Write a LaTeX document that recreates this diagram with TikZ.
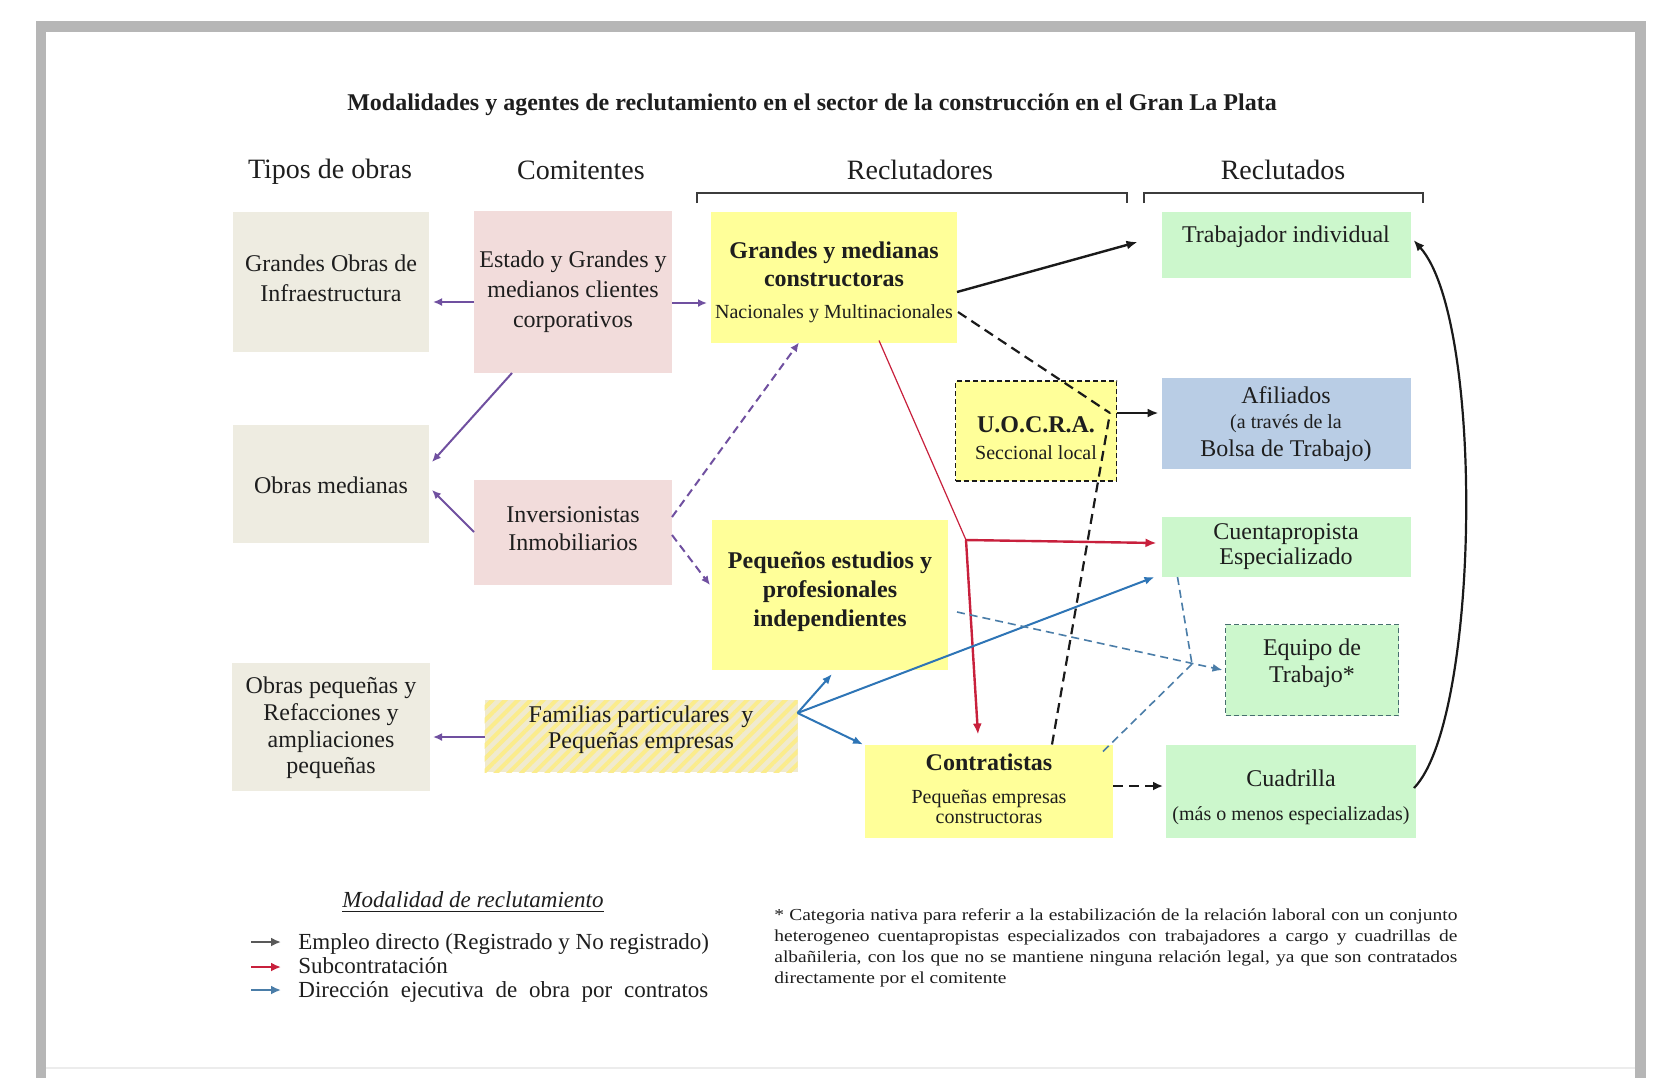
\documentclass[tikz,border=0pt]{standalone}
\usepackage{fontspec}
\usepackage{graphicx}
\setmainfont{Liberation Serif}
\usetikzlibrary{arrows.meta,patterns.meta}
\definecolor{frameGray}{RGB}{182,182,182}
\definecolor{faintGray}{RGB}{236,236,236}
\definecolor{beigeBox}{RGB}{238,236,225}
\definecolor{pinkBox}{RGB}{242,220,219}
\definecolor{yellowBox}{RGB}{255,255,153}
\definecolor{greenBox}{RGB}{204,247,204}
\definecolor{blueBox}{RGB}{185,205,229}
\definecolor{famBg}{RGB}{240,234,206}
\definecolor{famStripe}{RGB}{251,236,140}
\definecolor{purp}{RGB}{112,80,160}
\definecolor{redc}{RGB}{200,32,60}
\definecolor{bluec}{RGB}{46,117,182}
\definecolor{blued}{RGB}{74,125,168}
\definecolor{blk}{RGB}{26,26,26}
\definecolor{txtc}{RGB}{30,30,30}
\definecolor{brk}{RGB}{60,60,60}
\definecolor{eqBorder}{RGB}{70,110,110}
\begin{document}
\begin{tikzpicture}[x=0.5pt,y=-0.5pt,
  bx/.style n args={3}{fill=#1, minimum width=#2, minimum height=#3, inner sep=0pt, outer sep=0pt},
  tx/.style={align=center, inner sep=0pt, text=txtc},
  pa/.style={draw=purp, line width=1pt, -{Latex[length=4.5pt,width=4pt]}},
  pd/.style={pa, dash pattern=on 4pt off 2.5pt},
  ba/.style={draw=blk, line width=1.2pt, -{Latex[length=5.5pt,width=4.5pt]}},
  bd/.style={draw=blk, line width=1.1pt, dash pattern=on 5pt off 3pt},
  bda/.style={bd, -{Latex[length=5pt,width=4.5pt]}},
  rt/.style={draw=redc, line width=0.6pt},
  ra/.style={draw=redc, line width=1.2pt, -{Latex[length=5.5pt,width=4.5pt]}},
  ua/.style={draw=bluec, line width=1pt, -{Latex[length=5pt,width=4pt]}},
  ud/.style={draw=blued, line width=0.8pt, dash pattern=on 4pt off 2.5pt},
  uda/.style={ud, -{Latex[length=5pt,width=4pt]}},
]
\useasboundingbox (0,0) rectangle (1654,1078);
\fill[white] (0,0) rectangle (1654,1078);
% frame
\fill[frameGray] (37,21) rectangle (1646,32);
\fill[frameGray] (36,21) rectangle (46,1078);
\fill[frameGray] (1635,21) rectangle (1646,1078);
\draw[faintGray, line width=0.8pt] (46,1068) -- (1635,1068);

% title and headers
\node[tx, font=\bfseries\fontsize{12}{13}\selectfont] (title) at (812,105) {Modalidades y agentes de reclutamiento en el sector de la construcción en el Gran La Plata};
\node[tx, font=\fontsize{14}{15}\selectfont] (h1) at (330,172) {Tipos de obras};
\node[tx, font=\fontsize{14}{15}\selectfont] (h2) at (581,170) {Comitentes};
\node[tx, font=\fontsize{14}{15}\selectfont] (h3) at (920,170) {Reclutadores};
\node[tx, font=\fontsize{14}{15}\selectfont] (h4) at (1283,170) {Reclutados};
\draw[brk, line width=1pt] (697,203) -- (697,193) -- (1127,193) -- (1127,203);
\draw[brk, line width=1pt] (1144,203) -- (1144,193) -- (1423,193) -- (1423,203);

% boxes
\node[bx={beigeBox}{98pt}{70pt}] (gobras) at (331,282) {};
\node[bx={pinkBox}{99pt}{81pt}] (estado) at (573,292) {};
\node[bx={beigeBox}{98pt}{59pt}] (omed) at (331,484) {};
\node[bx={pinkBox}{99pt}{52.5pt}] (inver) at (573,532) {};
\node[bx={beigeBox}{99pt}{64pt}] (opeq) at (331,727) {};
\node[bx={famBg}{156.5pt}{36pt}, postaction={pattern={Lines[angle=45,distance=4.5pt,line width=2pt]}, pattern color=famStripe}] (famil) at (641,736) {};
\node[bx={yellowBox}{123pt}{65.5pt}] (gmc) at (834,277) {};
\node[bx={yellowBox}{80.5pt}{50pt}, draw=blk, line width=0.8pt, dash pattern=on 2.5pt off 1.5pt] (uocra) at (1036,431) {};
\node[bx={yellowBox}{118pt}{75pt}] (pequ) at (830,595) {};
\node[bx={yellowBox}{124pt}{46.5pt}] (contr) at (989,791) {};
\node[bx={greenBox}{124.5pt}{33pt}] (trab) at (1286,245) {};
\node[bx={blueBox}{124.5pt}{45.5pt}] (afil) at (1286,423) {};
\node[bx={greenBox}{124.5pt}{30pt}] (cuenta) at (1286,547) {};
\node[bx={greenBox}{86.5pt}{45.5pt}, draw=eqBorder, line width=0.6pt, dash pattern=on 2.5pt off 1.5pt] (equipo) at (1312,670) {};
\node[bx={greenBox}{125pt}{46.5pt}] (cuad) at (1291,791) {};

% box texts
\node[tx, font=\fontsize{12}{15}\selectfont] (gobrasT) at (331,278) {Grandes Obras de\\Infraestructura};
\node[tx, font=\fontsize{12}{15}\selectfont] (estadoT) at (573,292) {Estado y Grandes y\\medianos clientes\\corporativos};
\node[tx, font=\fontsize{12}{15}\selectfont] (omedT) at (331,485) {Obras medianas};
\node[tx, font=\fontsize{12}{14}\selectfont] (inverT) at (573,529) {Inversionistas\\Inmobiliarios};
\node[tx, font=\fontsize{12}{13.3}\selectfont] (opeqT) at (331,728) {Obras pequeñas y\\Refacciones y\\ampliaciones\\pequeñas};
\node[tx, font=\fontsize{12}{13}\selectfont] (familT) at (641,730) {Familias particulares\ \ y\\Pequeñas empresas};
\node[tx, font=\bfseries\fontsize{12}{14}\selectfont] (gmcT) at (834,264) {Grandes y medianas\\constructoras};
\node[tx, font=\fontsize{10}{11}\selectfont] (gmcS) at (834,314) {Nacionales y Multinacionales};
\node[tx, font=\bfseries\fontsize{12}{14}\selectfont] (uocraT) at (1036,425) {U.O.C.R.A.};
\node[tx, font=\fontsize{10}{11}\selectfont] (uocraS) at (1036,453) {Seccional local};
\node[tx, font=\bfseries\fontsize{12}{14.5}\selectfont] (pequT) at (830,592) {Pequeños estudios y\\profesionales\\independientes};
\node[tx, font=\bfseries\fontsize{12}{14}\selectfont] (contrT) at (989,762) {Contratistas};
\node[tx, font=\fontsize{10}{10}\selectfont] (contrS) at (989,807) {Pequeñas empresas\\constructoras};
\node[tx, font=\fontsize{12}{15}\selectfont] (trabT) at (1286,237) {Trabajador individual};
\node[tx, font=\fontsize{12}{15}\selectfont] (afilT1) at (1286,395) {Afiliados};
\node[tx, font=\fontsize{10}{11}\selectfont] (afilT2) at (1286,424) {(a través de la};
\node[tx, font=\fontsize{12}{15}\selectfont] (afilT3) at (1286,451) {Bolsa de Trabajo)};
\node[tx, font=\fontsize{12}{12.5}\selectfont] (cuentaT) at (1286,547) {Cuentapropista\\Especializado};
\node[tx, font=\fontsize{12}{13.5}\selectfont] (equipoT) at (1312,663) {Equipo de\\Trabajo*};
\node[tx, font=\fontsize{12}{15}\selectfont] (cuadT) at (1291,778) {Cuadrilla};
\node[tx, font=\fontsize{10}{11}\selectfont] (cuadS) at (1291,816) {(más o menos especializadas)};

% connectors
\draw[pa] ([yshift=-5pt]estado.west) -- ([xshift=2pt,yshift=-10pt]gobras.east);
\draw[pa] ([yshift=-5.5pt]estado.east) -- ([xshift=-2pt,yshift=-13pt]gmc.west);
\draw[pa] ([xshift=-30.5pt]estado.south) -- ([xshift=1.5pt,yshift=11pt]omed.east);
\draw[pa] (inver.west) -- ([xshift=1.5pt,yshift=-3pt]omed.east);
\draw[pd] ([yshift=7.5pt]inver.east) -- ([xshift=-17.5pt]gmc.south);
\draw[pd] ([yshift=-1.5pt]inver.east) -- ([xshift=-1pt,yshift=5pt]pequ.west);
\draw[pa] ([yshift=-0.5pt]famil.west) -- ([xshift=1.5pt,yshift=-5pt]opeq.east);
\draw[ba] ([yshift=-7.5pt]gmc.east) -- ([xshift=-12pt,yshift=1.5pt]trab.west);
\coordinate (uj) at (1110,413);
\draw[bd] ([xshift=0.5pt,yshift=-17.5pt]gmc.east) -- (uj);
\draw[bd] ([xshift=31.5pt]contr.north) -- (uj);
\draw[ba] ([yshift=9pt]uocra.east) -- ([xshift=-1.5pt,yshift=5pt]afil.west);
\coordinate (rj) at (966,540);
\draw[rt] ([xshift=22.5pt,yshift=1pt]gmc.south) -- (rj);
\draw[ra] (rj) -- ([xshift=-2.5pt,yshift=2pt]cuenta.west);
\draw[ra] (rj) -- ([xshift=-5.5pt,yshift=5pt]contr.north);
\coordinate (bj) at ([yshift=11.5pt]famil.east);
\draw[ua] (bj) -- ([xshift=1pt,yshift=-2pt]pequ.south);
\draw[ua] (bj) -- ([xshift=-1pt]contr.north west);
\draw[ua] (bj) -- ([xshift=-3.5pt]cuenta.south west);
\draw[uda] ([xshift=4.5pt,yshift=-8.5pt]pequ.east) -- ([xshift=-1.5pt]equipo.west);
\coordinate (ej) at (1192,664);
\draw[ud] ([xshift=8pt]cuenta.south west) -- (ej);
\draw[ud] ([xshift=-5pt,yshift=-3.5pt]contr.north east) -- (ej);
\draw[bda] ([yshift=2.5pt]contr.east) -- ([xshift=-1.5pt,yshift=2.5pt]cuad.west);
\draw[draw=blk, line width=1.1pt, -{Latex[length=5.5pt,width=4.5pt]}] ([xshift=-1pt,yshift=1.5pt]cuad.east) .. controls (1480,720) and (1485,320) .. ([xshift=1.5pt,yshift=2.5pt]trab.east);

% legend
\node[tx, font=\itshape\fontsize{11.5}{12}\selectfont] (legH) at (473,902) {\underline{Modalidad de reclutamiento}};
\node[tx, anchor=base west, font=\fontsize{11.5}{12}\selectfont] (leg1) at (298,949) {Empleo directo (Registrado y No registrado)};
\node[tx, anchor=base west, font=\fontsize{11.5}{12}\selectfont] (leg2) at (298,973) {Subcontratación};
\node[tx, anchor=base west, font=\fontsize{11.5}{12}\selectfont] (leg3) at (298,997) {\makebox[205pt][s]{Dirección ejecutiva de obra por contratos}};
\coordinate (l1s) at (251,942);
\coordinate (l2s) at (251,967);
\coordinate (l3s) at (251,990);
\draw[draw=gray!70!black, line width=1pt, -{Latex[length=5pt,width=4.5pt]}] (l1s) -- (281,942);
\draw[draw=redc, line width=1pt, -{Latex[length=5pt,width=4.5pt]}] (l2s) -- (281,967);
\draw[draw=blued, line width=1pt, -{Latex[length=5pt,width=4.5pt]}] (l3s) -- (281,990);

% footnote
\node[anchor=north west, inner sep=0pt, text=txtc] (foot) at (774,908) {\scalebox{1.16}[1]{\parbox{294.4pt}{\fontsize{8.4}{10.5}\selectfont * Categoria nativa para referir a la estabilización de la relación laboral con un conjunto\linebreak heterogeneo cuentapropistas especializados con trabajadores a cargo y cuadrillas de\linebreak albañileria, con los que no se mantiene ninguna relación legal, ya que son contratados\linebreak directamente por el comitente}}};
\end{tikzpicture}
\end{document}
